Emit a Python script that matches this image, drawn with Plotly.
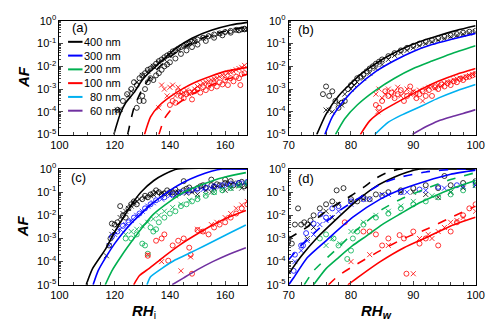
import plotly.graph_objects as go

# colours per particle size
BLACK, BLUE, GREEN, RED, CYAN, PURPLE = "#000000", "#0000FF", "#00B050", "#FF0000", "#00B0F0", "#7030A0"
sizes = ["400 nm", "300 nm", "200 nm", "100 nm", "80 nm", "60 nm"]
size_colors = [BLACK, BLUE, GREEN, RED, CYAN, PURPLE]

# ---------------- panel (a): RHi ----------------
a_bk_solid_x = [119.7, 122, 124, 127, 130, 134, 138, 142, 148, 155, 162, 168]
a_bk_solid_y = [1e-5, 8e-5, 2.5e-4, 7e-4, 2.5e-3, 8e-3, 2.2e-2, 6e-2, 0.17, 0.38, 0.65, 0.85]
a_bk_dash_x = [124.7, 127, 130, 134, 140, 146, 152, 160, 168]
a_bk_dash_y = [1e-5, 1.5e-4, 1e-3, 5e-3, 2.5e-2, 8e-2, 0.18, 0.35, 0.55]
a_rd_solid_x = [130.8, 133, 136, 140, 145, 150, 155, 160, 168]
a_rd_solid_y = [1e-5, 6e-5, 1.8e-4, 4.5e-4, 1.1e-3, 2.2e-3, 3.8e-3, 6e-3, 9e-3]
a_rd_dash_x = [136, 138, 141, 145, 150, 155, 160, 168]
a_rd_dash_y = [1e-5, 5e-5, 1.5e-4, 3.5e-4, 8e-4, 1.5e-3, 2.6e-3, 4.5e-3]

a_bk_o_x = [121, 123, 124.5, 126, 127, 128, 129, 130, 131, 132, 133, 134, 135, 136, 137, 138, 139, 140,
            141, 142, 143, 144, 145, 146, 147, 148, 149, 150, 152, 154, 156, 158, 160, 162, 164, 166, 167,
            128, 129, 130, 130.5, 131, 132, 133, 134, 135, 136, 137, 138, 139, 140, 142, 144, 146, 148,
            150, 153, 156, 159, 162, 165, 167]
a_bk_o_y = [1.2e-4, 3e-4, 6e-4, 1e-3, 2e-3, 1.5e-3, 3e-3, 4e-3, 5e-3, 7e-3, 8e-3, 1e-2, 1.3e-2, 1.7e-2,
            2e-2, 2.5e-2, 3e-2, 3.5e-2, 4.5e-2, 5e-2, 6e-2, 7e-2, 8e-2, 9e-2, 0.1, 0.12, 0.13, 0.15, 0.18,
            0.21, 0.25, 0.28, 0.32, 0.36, 0.4, 0.42, 0.45,
            1.5e-4, 3e-4, 5e-4, 3e-4, 1e-3, 2e-3, 3e-3, 2.5e-3, 4e-3, 5e-3, 7e-3, 1e-2, 1.2e-2, 1.5e-2,
            2.2e-2, 3.5e-2, 5e-2, 7e-2, 9e-2, 0.13, 0.18, 0.23, 0.3, 0.38, 0.42]
a_bk_x_x = [121, 122, 125, 126, 128, 130, 132, 134, 136, 138, 140, 143, 146, 149, 152, 155, 158, 161, 164, 167]
a_bk_x_y = [1.2e-4, 1.3e-4, 5e-4, 8e-4, 2e-3, 4e-3, 6e-3, 1e-2, 1.5e-2, 2e-2, 3e-2, 5e-2, 8e-2, 0.12,
            0.17, 0.22, 0.28, 0.33, 0.38, 0.42]
a_rd_x_x = [136, 137, 138, 139, 140, 141, 142, 143, 144, 145, 146, 147, 148, 149, 150, 151, 152, 153,
            154, 155, 156, 157, 158, 159, 160, 161, 162, 163, 164, 165, 166, 167]
a_rd_x_y = [1.5e-4, 1.5e-3, 1e-3, 5e-4, 1.2e-3, 1.5e-3, 5e-4, 1.2e-3, 6e-4, 7e-4, 9e-4, 6e-4, 8e-4,
            1e-3, 1.3e-3, 1.5e-3, 1.8e-3, 2e-3, 2.2e-3, 2.5e-3, 2.8e-3, 3e-3, 3.5e-3, 4e-3, 4e-3, 5e-3,
            5.5e-3, 6e-3, 7e-3, 8e-3, 9e-3, 1.1e-2]
a_rd_o_x = [140, 141, 142, 143, 144, 145, 146, 147, 148, 149, 150, 151, 152, 153, 154, 155, 156, 157,
            158, 159, 160, 161, 162, 163, 164, 165, 166, 167, 165.5]
a_rd_o_y = [2e-4, 3e-4, 2.5e-4, 8e-4, 5e-4, 4e-4, 6e-4, 7e-4, 3.5e-4, 8e-4, 1e-3, 7e-4, 1.2e-3, 9e-4,
            1.4e-3, 1.1e-3, 1.8e-3, 1.3e-3, 2e-3, 1.6e-3, 2.5e-3, 1.5e-3, 3e-3, 2.2e-3, 3.5e-3, 3e-3,
            4.5e-3, 5e-3, 1.5e-3]

# ---------------- panel (b): RHw ----------------
b_curve_x = {
    BLACK: [74.5, 76, 78, 80, 82, 85, 88, 91, 94, 97, 100],
    BLUE: [75.8, 77, 79, 81, 84, 87, 90, 93, 96, 100],
    GREEN: [77.5, 79, 81, 84, 87, 90, 93, 96, 100],
    RED: [81.5, 83, 85, 87.4, 91, 94, 97, 100],
    CYAN: [83.8, 86, 88, 91.5, 94, 97, 100],
    PURPLE: [89.8, 92, 94, 96, 98, 100],
}
b_curve_y = {
    BLACK: [1e-5, 8e-5, 5e-4, 1.8e-3, 5.5e-3, 2e-2, 5.5e-2, 0.12, 0.22, 0.38, 0.6],
    BLUE: [1e-5, 6e-5, 3.5e-4, 1.3e-3, 6e-3, 1.8e-2, 4.5e-2, 9e-2, 0.15, 0.28],
    GREEN: [1e-5, 5e-5, 2e-4, 9e-4, 3e-3, 8e-3, 1.7e-2, 3.5e-2, 8e-2],
    RED: [1e-5, 4e-5, 1.1e-4, 2.6e-4, 9e-4, 2.2e-3, 4.5e-3, 8e-3],
    CYAN: [1e-5, 3.5e-5, 7e-5, 1.9e-4, 4e-4, 8.5e-4, 1.6e-3],
    PURPLE: [1e-5, 2.2e-5, 4e-5, 6e-5, 8.5e-5, 1.25e-4],
}
b_bk_o_x = [75.5, 76, 76.5, 77, 77.5, 78, 78.5, 79, 79.5, 80, 80.5, 81, 81.5, 82, 82.5, 83, 83.5, 84,
            84.5, 85, 86, 87, 88, 89, 90, 91, 92, 93, 94, 95, 96, 97, 98, 99, 100]
b_bk_o_y = [6e-4, 1.3e-3, 5e-4, 8e-4, 3e-4, 1.5e-4, 2.5e-4, 3e-4, 1e-3, 1.5e-3, 2e-3, 3e-3, 3.5e-3,
            4.5e-3, 6e-3, 8e-3, 1e-2, 1.3e-2, 1.6e-2, 2e-2, 2.8e-2, 3.8e-2, 5e-2, 6.5e-2, 8e-2, 0.1,
            0.12, 0.14, 0.17, 0.2, 0.23, 0.26, 0.3, 0.33, 0.36]
b_bk_x_x = [76, 76.5, 77, 78, 78.5, 79, 80, 80.5, 81, 82, 83, 84, 85, 86, 87, 88, 89, 90, 91, 92, 93,
            94, 95, 96, 97, 98, 99, 100]
b_bk_x_y = [1.2e-4, 1.2e-4, 1e-4, 2.5e-4, 2e-4, 6e-4, 1e-3, 1.5e-3, 2e-3, 3e-3, 5e-3, 8e-3, 1.2e-2,
            2e-2, 3e-2, 4e-2, 5e-2, 6.5e-2, 8e-2, 0.1, 0.12, 0.14, 0.17, 0.2, 0.23, 0.26, 0.29, 0.32]
b_rd_x_x = [84, 84.5, 85, 85.5, 86, 86.5, 87, 87.5, 88, 88.5, 89, 89.5, 90, 90.5, 91, 91.5, 92, 92.5,
            93, 93.5, 94, 94.5, 95, 95.5, 96, 96.5, 97, 97.5, 98, 98.5, 99, 99.5, 100, 84.3]
b_rd_x_y = [6e-4, 1e-3, 4e-4, 6e-4, 1e-3, 5e-4, 8e-4, 1.2e-3, 5e-4, 7e-4, 1e-3, 6e-4, 8e-4, 5e-4,
            9e-4, 3e-4, 1e-3, 1.2e-3, 1.3e-3, 1.1e-3, 1.5e-3, 1.4e-3, 1.8e-3, 2e-3, 2.2e-3, 2.5e-3,
            2.8e-3, 3e-3, 3.2e-3, 3.5e-3, 4e-3, 4.5e-3, 5e-3, 1e-4]
b_rd_o_x = [84, 84.5, 85, 85.5, 86, 86.5, 87, 87.5, 88, 88.5, 89, 89.5, 90, 90.5, 91, 91.5, 92, 92.5,
            93, 93.5, 94, 94.5, 95, 95.5, 96, 96.5, 97, 97.5, 98, 98.5, 99, 99.5, 100]
b_rd_o_y = [2e-4, 1.5e-4, 3e-4, 8e-4, 5e-4, 7e-4, 4e-4, 6e-4, 9e-4, 3e-4, 5e-4, 1.3e-3, 7e-4, 4e-4,
            6e-4, 8e-4, 5e-4, 9e-4, 5e-4, 1.2e-3, 1e-3, 1.6e-3, 1.3e-3, 1.8e-3, 1.5e-3, 2.2e-3, 2e-3,
            2.8e-3, 2.5e-3, 3.3e-3, 3.5e-3, 4e-3, 4.5e-3]

# ---------------- panel (c): RHi ----------------
c_curve_x = {
    BLACK: [109.7, 112, 116.7, 119.5, 122.5, 126, 129.5, 134.2, 138, 142.8, 168],
    BLUE: [112.2, 114, 117, 120, 122.5, 126, 130, 134, 140, 145, 150, 155, 159, 168],
    GREEN: [116.6, 119, 122.5, 126, 130, 134, 140, 145, 150, 155, 160, 167.5],
    RED: [126.9, 129, 132.4, 138, 143.9, 150, 155.5, 161, 167.5],
    CYAN: [131.7, 133, 137, 142, 147, 152, 157, 162, 167.5],
    PURPLE: [140.8, 145, 150, 155.5, 161, 167.5],
}
c_curve_y = {
    BLACK: [1e-5, 5e-5, 3.5e-4, 1.5e-3, 6e-3, 2.8e-2, 0.1, 0.32, 0.6, 1.0, 1.0],
    BLUE: [1e-5, 4e-5, 1.7e-4, 6e-4, 1.5e-3, 4.5e-3, 1.3e-2, 3.5e-2, 0.12, 0.27, 0.5, 0.8, 1.0, 1.0],
    GREEN: [1e-5, 4e-5, 1.8e-4, 7e-4, 3e-3, 1.1e-2, 4e-2, 0.1, 0.18, 0.3, 0.45, 0.7],
    RED: [1e-5, 2.5e-5, 5e-5, 1.7e-4, 5.6e-4, 1.6e-3, 3.8e-3, 8e-3, 1.6e-2],
    CYAN: [1e-5, 2.2e-5, 5e-5, 1.2e-4, 2.3e-4, 4.5e-4, 9e-4, 1.8e-3, 3.8e-3],
    PURPLE: [1e-5, 2e-5, 4.5e-5, 1e-4, 2e-4, 4e-4],
}
c_bk_o_x = [118, 118.5, 119, 120, 121, 122, 123, 124, 125, 126, 127, 128, 130, 131, 133, 135, 136, 138,
            140, 142, 145, 147, 150, 152, 155, 157, 160, 162, 165, 168, 145, 155, 160,
            132, 134, 137, 139, 141, 143, 146, 148, 151, 153, 156, 158, 161, 163, 166, 167]
c_bk_o_y = [5e-4, 1e-3, 4.4e-3, 4e-3, 5e-3, 2.5e-2, 1e-2, 8e-3, 2e-2, 3e-2, 4e-2, 3e-2, 5e-2, 0.07, 8e-2,
            0.12, 0.1, 0.09, 0.1, 0.13, 0.12, 0.16, 0.15, 0.2, 0.2, 0.22, 0.25, 0.3, 0.25, 0.2, 0.3,
            0.35, 0.35,
            0.06, 0.09, 0.08, 0.12, 0.1, 0.1, 0.14, 0.12, 0.18, 0.15, 0.17, 0.2, 0.22, 0.2, 0.28, 0.18]
c_bk_x_x = [117, 119, 121, 123, 125, 127, 129, 131, 134, 137, 140, 143, 146, 150, 153, 156, 159, 162, 165, 168,
            120, 122, 124, 126, 128, 133, 135, 138, 142, 148, 155, 160, 163, 166]
c_bk_x_y = [1.8e-4, 1.5e-3, 4e-3, 1.2e-2, 2e-2, 3.5e-2, 5e-2, 6e-2, 8e-2, 9e-2, 9e-2, 0.1, 0.09, 0.08,
            0.12, 0.15, 0.18, 0.15, 0.2, 0.18,
            2e-3, 8e-3, 1.5e-2, 2.5e-2, 4e-2, 7e-2, 0.1, 0.08, 0.07, 0.1, 0.1, 0.12, 0.25, 0.15]
c_bl_o_x = [119, 121, 123, 125, 127, 129, 131, 133, 135, 138, 141, 144, 147, 150, 153, 156, 159, 162, 165, 168]
c_bl_o_y = [1.2e-3, 2e-3, 3.5e-3, 5e-3, 8e-3, 1.2e-2, 2e-2, 3e-2, 4.5e-2, 6e-2, 8e-2, 0.1, 0.12, 0.14,
            0.16, 0.18, 0.2, 0.22, 0.25, 0.28]
c_bl_x_x = [118, 120, 122, 124, 126, 128, 130, 132, 134, 137, 140, 143, 146, 149, 152, 155, 158, 161, 164, 167]
c_bl_x_y = [5e-4, 1.5e-3, 2.5e-3, 4e-3, 6e-3, 1e-2, 1.5e-2, 2.5e-2, 3.5e-2, 5e-2, 7e-2, 9e-2, 0.1, 0.12,
            0.13, 0.15, 0.17, 0.2, 0.22, 0.25]
c_gr_o_x = [124, 126, 128, 130, 131, 132, 133, 134, 135, 136, 138, 140, 142, 144, 146, 148, 150, 153,
            156, 159, 162, 165, 168]
c_gr_o_y = [1e-3, 1e-3, 1.5e-3, 6e-4, 5e-4, 2.2e-4, 3e-3, 2e-3, 2.5e-3, 5e-3, 8e-3, 1.2e-2, 1.5e-2,
            2.5e-2, 3e-2, 4e-2, 5e-2, 7e-2, 0.1, 0.12, 0.15, 0.2, 0.25]
c_gr_x_x = [124, 126, 128, 130, 132, 134, 136, 138, 141, 144, 147, 150, 153, 156, 159, 162, 165, 168]
c_gr_x_y = [1.5e-3, 2e-3, 2.5e-3, 3.5e-3, 5e-3, 7e-3, 1e-2, 1.5e-2, 2.2e-2, 3e-2, 4.5e-2, 6e-2,
            8e-2, 0.1, 0.13, 0.15, 0.18, 0.22]
c_rd_o_x = [132, 135, 137, 138, 139.4, 141, 143, 145, 147, 147.5, 148, 150, 152, 154, 156, 158, 160, 162,
            164, 166, 168]
c_rd_o_y = [1.8e-4, 8e-4, 1e-3, 1.5e-3, 1.1e-4, 5e-4, 8e-4, 1e-3, 4e-4, 2e-4, 3e-5, 2.3e-3, 2e-3, 1.5e-3,
            3e-3, 4e-3, 5e-3, 8e-3, 1.2e-2, 2e-2, 3e-2]
c_rd_x_x = [132, 137, 144, 147.5, 150, 152, 155, 157, 160, 162, 164, 166, 168]
c_rd_x_y = [2e-4, 1e-4, 4e-5, 1.6e-4, 2.5e-3, 2e-3, 4e-3, 5e-3, 8e-3, 1.2e-2, 2e-2, 2.8e-2, 4e-2]

# ---------------- panel (d): RHw ----------------
d_solid_x = {
    BLACK: [70, 72, 74.6, 77.7, 80.8, 83.9, 87, 89, 91, 100],
    BLUE: [70, 70.8, 73, 76.2, 80.3, 84.7, 88, 92, 96, 100],
    GREEN: [74, 76, 78, 80.3, 82.5, 85, 88, 91, 94, 97, 100],
    RED: [79.5, 81.5, 84.7, 88.5, 92.4, 96, 100],
}
d_solid_y = {
    BLACK: [3e-5, 1.7e-4, 1.1e-3, 7e-3, 4e-2, 0.17, 0.45, 0.72, 1.0, 1.0],
    BLUE: [1e-5, 2e-5, 1.5e-4, 9e-4, 8.3e-3, 5e-2, 0.13, 0.3, 0.6, 0.9],
    GREEN: [1e-5, 5e-5, 1.5e-4, 5e-4, 1.3e-3, 4e-3, 1.2e-2, 3.5e-2, 8e-2, 0.17, 0.32],
    RED: [1e-5, 2.5e-5, 1e-4, 4e-4, 1.2e-3, 3.5e-3, 8.3e-3],
}
d_dash_x = {
    BLACK: [70, 73, 75.5, 77.7, 80, 82, 84, 86, 88, 100],
    BLUE: [70, 72, 74.6, 78, 81, 84.7, 88, 92, 97, 100],
    GREEN: [72.5, 74, 77.7, 81, 85, 88, 92, 96, 100],
    RED: [76.4, 78, 81, 84.7, 88.5, 92.4, 96, 100],
}
d_dash_y = {
    BLACK: [1e-3, 3.2e-3, 1.2e-2, 3e-2, 7e-2, 0.16, 0.4, 0.75, 1.0, 1.0],
    BLUE: [1.2e-4, 5e-4, 2.3e-3, 1.5e-2, 5e-2, 0.22, 0.45, 0.75, 1.0, 1.0],
    GREEN: [1e-5, 4e-5, 3.5e-4, 2.5e-3, 1.8e-2, 5e-2, 0.14, 0.35, 0.7],
    RED: [1e-5, 2.5e-5, 8e-5, 3e-4, 1e-3, 2.7e-3, 8e-3, 2.5e-2],
}
d_bk_o_x = [70, 70.5, 71, 71.5, 72, 72.5, 73, 73.5, 74, 75, 76, 77, 77.7, 78.8, 80, 81, 82, 83, 84, 86,
            88, 90, 92, 94, 95, 96, 98, 100]
d_bk_o_y = [1e-3, 6e-4, 4e-3, 2e-2, 4e-3, 5e-3, 4e-3, 6e-3, 1e-2, 2e-2, 3e-2, 4e-2, 0.12, 0.15,
            0.05, 0.04, 0.06, 0.05, 0.08, 0.1, 0.12, 0.15, 0.2, 0.15, 0.5, 0.2, 0.25, 0.3]
d_bk_x_x = [73, 74, 76, 77, 78, 80, 82, 85, 88, 90, 92, 94, 96, 98, 100]
d_bk_x_y = [1e-3, 3e-3, 1.5e-2, 8e-3, 3e-2, 4e-2, 5e-2, 8e-2, 0.1, 0.1, 0.08, 0.06, 0.1, 0.15, 0.2]
d_bl_o_x = [70.8, 71, 72, 72.3, 72.8, 74, 75.1, 76, 77, 78, 80, 82, 85, 88, 91, 94, 97, 100]
d_bl_o_y = [4e-5, 2e-4, 5e-4, 5e-4, 1.7e-3, 4.4e-3, 1.1e-2, 8e-3, 2e-2, 2.5e-2, 4e-2, 5e-2, 7e-2, 0.1,
            0.13, 0.17, 0.2, 0.25]
d_bl_x_x = [71, 72, 73, 74, 75, 76, 78, 80, 83, 86, 89, 92, 95, 98, 100]
d_bl_x_y = [1e-4, 3e-4, 8e-4, 1.5e-3, 4e-3, 6e-3, 1.5e-2, 3e-2, 5e-2, 8e-2, 0.1, 0.12, 0.15, 0.18, 0.2]
d_gr_o_x = [75, 76, 77.2, 78, 79.4, 80, 80.3, 81, 82, 84, 86, 88, 90, 92, 94, 96, 98, 100]
d_gr_o_y = [1e-3, 1.5e-3, 1e-3, 5e-4, 1.3e-4, 3e-4, 1e-3, 2e-3, 4e-3, 8e-3, 1.2e-2, 2e-2, 3e-2,
            4e-2, 6e-2, 8e-2, 0.12, 0.2]
d_gr_x_x = [76, 77, 78.2, 80, 82, 84, 86, 88, 90, 93, 96, 100]
d_gr_x_y = [5e-4, 1e-3, 6e-4, 2e-3, 5e-3, 1e-2, 1.5e-2, 2.5e-2, 4e-2, 7e-2, 0.1, 0.25]
d_rd_o_x = [79, 82, 83, 84, 85, 86, 87.8, 88.5, 88.9, 90, 91, 92, 94, 96, 97, 98, 99, 100]
d_rd_o_y = [5e-3, 2e-3, 2e-3, 1.5e-3, 5e-4, 1e-3, 1.4e-3, 1e-3, 3e-5, 2e-3, 6e-4, 1e-3, 5e-4, 2e-3, 5e-3,
            1e-2, 2e-2, 3e-2]
d_rd_x_x = [80, 83, 86, 90, 91, 92.4, 93, 94, 95, 96, 97, 98, 100]
d_rd_x_y = [1e-4, 2e-4, 5e-4, 3e-5, 1e-3, 1.5e-3, 1e-3, 2e-3, 3e-3, 5e-3, 6e-3, 8e-3, 1.5e-2]

fig = go.Figure()


def add_line(ax, x, y, color, dash="solid"):
    fig.add_trace(go.Scatter(x=x, y=y, mode="lines", xaxis="x" + ax, yaxis="y" + ax,
                             line=dict(color=color, width=1.6, dash=dash, shape="spline", smoothing=0.6),
                             showlegend=False, hoverinfo="skip"))


def add_pts(ax, x, y, color, sym):
    fig.add_trace(go.Scatter(x=x, y=y, mode="markers", xaxis="x" + ax, yaxis="y" + ax,
                             marker=dict(symbol=sym, size=5, color=color, line=dict(width=0.8, color=color)),
                             showlegend=False, hoverinfo="skip"))


# panel a
add_pts("", a_bk_o_x, a_bk_o_y, BLACK, "circle-open")
add_pts("", a_bk_x_x, a_bk_x_y, BLACK, "x-thin-open")
add_pts("", a_rd_o_x, a_rd_o_y, RED, "circle-open")
add_pts("", a_rd_x_x, a_rd_x_y, RED, "x-thin-open")
add_line("", a_bk_solid_x, a_bk_solid_y, BLACK)
add_line("", a_bk_dash_x, a_bk_dash_y, BLACK, "dash")
add_line("", a_rd_solid_x, a_rd_solid_y, RED)
add_line("", a_rd_dash_x, a_rd_dash_y, RED, "dash")

# panel b
add_pts("2", b_bk_o_x, b_bk_o_y, BLACK, "circle-open")
add_pts("2", b_bk_x_x, b_bk_x_y, BLACK, "x-thin-open")
add_pts("2", b_rd_o_x, b_rd_o_y, RED, "circle-open")
add_pts("2", b_rd_x_x, b_rd_x_y, RED, "x-thin-open")
for col in size_colors:
    add_line("2", b_curve_x[col], b_curve_y[col], col)

# panel c
for x, y, col, sym in [(c_bk_o_x, c_bk_o_y, BLACK, "circle-open"), (c_bk_x_x, c_bk_x_y, BLACK, "x-thin-open"),
                       (c_bl_o_x, c_bl_o_y, BLUE, "circle-open"), (c_bl_x_x, c_bl_x_y, BLUE, "x-thin-open"),
                       (c_gr_o_x, c_gr_o_y, GREEN, "circle-open"), (c_gr_x_x, c_gr_x_y, GREEN, "x-thin-open"),
                       (c_rd_o_x, c_rd_o_y, RED, "circle-open"), (c_rd_x_x, c_rd_x_y, RED, "x-thin-open")]:
    add_pts("3", x, y, col, sym)
for col in size_colors:
    add_line("3", c_curve_x[col], c_curve_y[col], col)

# panel d
for x, y, col, sym in [(d_bk_o_x, d_bk_o_y, BLACK, "circle-open"), (d_bk_x_x, d_bk_x_y, BLACK, "x-thin-open"),
                       (d_bl_o_x, d_bl_o_y, BLUE, "circle-open"), (d_bl_x_x, d_bl_x_y, BLUE, "x-thin-open"),
                       (d_gr_o_x, d_gr_o_y, GREEN, "circle-open"), (d_gr_x_x, d_gr_x_y, GREEN, "x-thin-open"),
                       (d_rd_o_x, d_rd_o_y, RED, "circle-open"), (d_rd_x_x, d_rd_x_y, RED, "x-thin-open")]:
    add_pts("4", x, y, col, sym)
for col in [BLACK, BLUE, GREEN, RED]:
    add_line("4", d_solid_x[col], d_solid_y[col], col)
    add_line("4", d_dash_x[col], d_dash_y[col], col, "dash")

font = dict(family="Liberation Sans, Arial", size=11, color="black")
ytickvals = [1e-5, 1e-4, 1e-3, 1e-2, 1e-1, 1]
yticktext = ["10<sup>-5</sup>", "10<sup>-4</sup>", "10<sup>-3</sup>", "10<sup>-2</sup>", "10<sup>-1</sup>",
             "10<sup>0</sup>"]


def xax(dom, rng, dtick, minor, anchor):
    return dict(domain=dom, range=rng, dtick=dtick, tick0=rng[0],
                ticks="inside", ticklen=4, showline=True, linecolor="black", linewidth=1, mirror=True,
                showgrid=False, zeroline=False, tickfont=font, anchor=anchor,
                minor=dict(dtick=minor, ticks="inside", ticklen=3, showgrid=False))


def yax(dom, anchor):
    return dict(domain=dom, type="log", range=[-5, 0], tickvals=ytickvals, ticktext=yticktext,
                ticks="inside", ticklen=4, showline=True, linecolor="black", linewidth=1, mirror=True,
                showgrid=False, zeroline=False, tickfont=font, anchor=anchor,
                minor=dict(dtick="D1", ticks="inside", ticklen=2, showgrid=False))


# page has an 8px body margin; figure sized to fit the window
W, H = 492, 322


def px(sx):
    return (sx - 8) / W


def py(sy):
    return 1 - (sy - 8) / H


xa = [px(52), px(247)]
xb = [px(290), px(484)]
ytop = [py(132), py(13)]
ybot = [py(289), py(168)]


def note(text, sx, sy, size, xanchor="center", angle=0):
    return dict(text=text, x=px(sx), y=py(sy), xref="paper", yref="paper", showarrow=False,
                xanchor=xanchor, yanchor="middle", textangle=angle, font=dict(size=size))


# hand-drawn legend box inside panel (a)
legend_shapes = []
legend_notes = []
for i, (name, col) in enumerate(zip(sizes, size_colors)):
    sy = 35 + 14.4 * i
    legend_shapes.append(dict(type="line", xref="paper", yref="paper", x0=px(61), x1=px(76),
                              y0=py(sy), y1=py(sy), line=dict(color=col, width=2)))
    legend_notes.append(note(name, 118, sy, 11, "right"))

fig.update_layout(
    width=W, height=H, margin=dict(l=0, r=0, t=0, b=0),
    paper_bgcolor="white", plot_bgcolor="white", font=font, showlegend=False,
    xaxis=xax(xa, [100, 168], 20, 5, "y"), yaxis=yax(ytop, "x"),
    xaxis2=xax(xb, [70, 100], 10, 2, "y2"), yaxis2=yax(ytop, "x2"),
    xaxis3=xax(xa, [100, 168], 20, 5, "y3"), yaxis3=yax(ybot, "x3"),
    xaxis4=xax(xb, [70, 100], 10, 2, "y4"), yaxis4=yax(ybot, "x4"),
    shapes=legend_shapes,
    annotations=legend_notes + [
        note("(a)", 63, 20, 13, "left"),
        note("(b)", 298, 22, 13, "left"),
        note("(c)", 62, 177, 13, "left"),
        note("(d)", 298, 178, 13, "left"),
        note("<b><i>AF</i></b>", 14, 72, 15, "center", -90),
        note("<b><i>AF</i></b>", 14, 228, 15, "center", -90),
        note("<b><i>RH</i></b><sub>i</sub>", 140, 317, 15),
        note("<b><i>RH<sub>w</sub></i></b>", 381, 317, 15),
    ],
)

fig.write_html("out.html")
